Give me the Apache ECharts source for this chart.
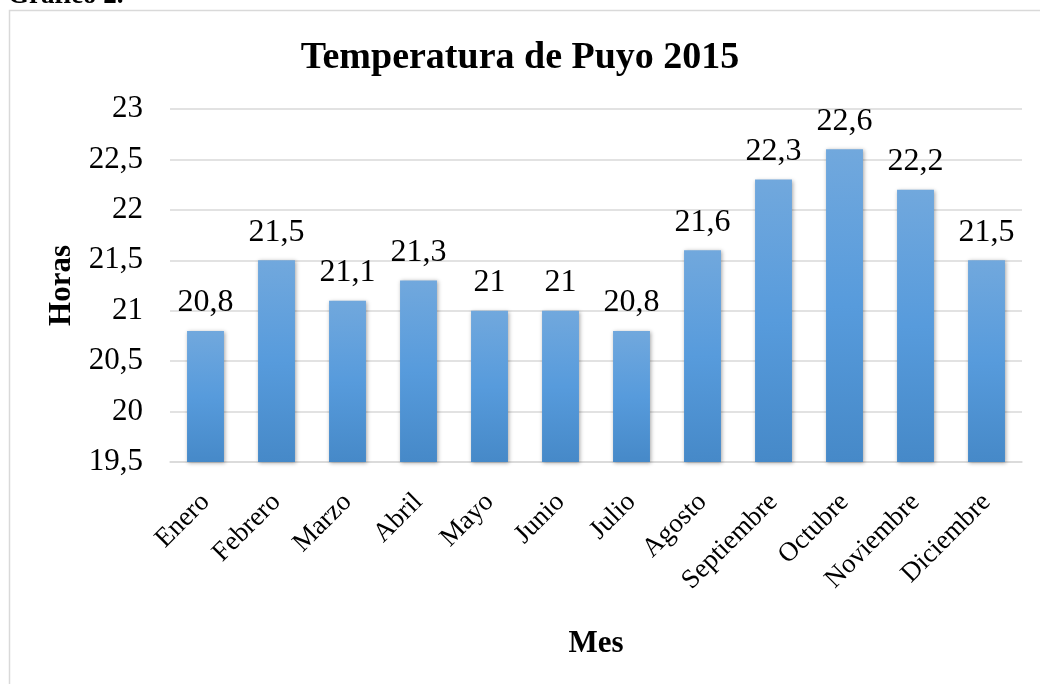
<!DOCTYPE html>
<html>
<head>
<meta charset="utf-8">
<script src="https://cdn.jsdelivr.net/npm/echarts@6/dist/echarts.min.js"></script>
<style>
  html, body { margin: 0; padding: 0; background: #fff; }
  #chart { width: 1040px; height: 684px; }
</style>
</head>
<body>
<div id="chart"></div>
<script>
const months = ["Enero", "Febrero", "Marzo", "Abril", "Mayo", "Junio", "Julio",
  "Agosto", "Septiembre", "Octubre", "Noviembre", "Diciembre"];
const temps = [20.8, 21.5, 21.1, 21.3, 21, 21, 20.8, 21.6, 22.3, 22.6, 22.2, 21.5];

const serif = "'Liberation Serif', 'Times New Roman', serif";
const fmt = (v) => String(v).replace(".", ",");

const chart = echarts.init(document.getElementById("chart"));
chart.setOption({
  animation: false,
  textStyle: { fontFamily: serif, color: "#000" },
  title: {
    text: "Temperatura de Puyo 2015",
    left: "center",
    top: 34,
    textStyle: { fontFamily: serif, fontSize: 38, fontWeight: "bold", color: "#000" },
  },
  graphic: [
    {
      type: "rect",
      shape: { x: 9.5, y: 10.5, width: 1040, height: 700 },
      style: { fill: "none", stroke: "#d9d9d9", lineWidth: 1.5 },
      z: -1,
    },
    {
      type: "text",
      left: 8,
      top: -17,
      style: { text: "Gráfico 2.", font: "bold 27px " + serif, fill: "#000" },
    },
  ],
  grid: { left: 170, right: 18, top: 109, bottom: 222 },
  xAxis: {
    type: "category",
    data: months,
    name: "Mes",
    nameLocation: "middle",
    nameGap: 166,
    nameTextStyle: { fontFamily: serif, fontSize: 31, fontWeight: "bold", color: "#000" },
    axisLine: { lineStyle: { color: "#d9d9d9", width: 1.5 } },
    axisTick: { show: false },
    axisLabel: { rotate: 45, fontSize: 27, color: "#000", margin: 36, interval: 0, fontFamily: serif },
  },
  yAxis: {
    type: "value",
    min: 19.5,
    max: 23,
    interval: 0.5,
    name: "Horas",
    nameLocation: "middle",
    nameGap: 93,
    nameTextStyle: { fontFamily: serif, fontSize: 31, fontWeight: "bold", color: "#000" },
    axisLine: { show: false },
    axisTick: { show: false },
    splitLine: { lineStyle: { color: "#d9d9d9", width: 1.5 } },
    axisLabel: { fontSize: 31, color: "#000", margin: 27, fontFamily: serif, formatter: fmt },
  },
  series: [
    {
      type: "bar",
      data: temps,
      barWidth: "52%",
      itemStyle: {
        color: new echarts.graphic.LinearGradient(0, 0, 0, 1, [
          { offset: 0, color: "#71a8dd" },
          { offset: 0.5, color: "#579bdc" },
          { offset: 1, color: "#4689c8" },
        ]),
        shadowColor: "rgba(0,0,0,0.35)",
        shadowBlur: 4,
        shadowOffsetX: 1,
        shadowOffsetY: 1,
      },
      label: {
        show: true,
        position: "top",
        distance: 12,
        fontSize: 32,
        color: "#000",
        fontFamily: serif,
        formatter: (p) => fmt(p.value),
      },
    },
  ],
});
</script>
</body>
</html>
